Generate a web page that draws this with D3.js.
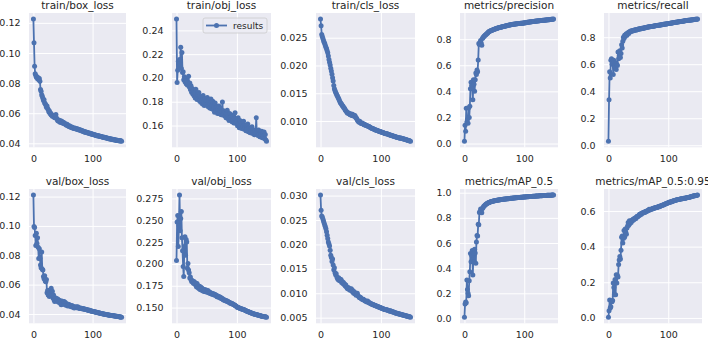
<!DOCTYPE html>
<html>
<head>
<meta charset="utf-8">
<script src="https://cdn.jsdelivr.net/npm/d3@7/dist/d3.min.js"></script>
<style>
body { margin: 0; background: #ffffff; }
svg text { font-family: "DejaVu Sans", sans-serif; fill: #262626; }
</style>
</head>
<body>
<div id="chart"></div>
<script>
// panel titles, left to right, top row then bottom row
var titles = ["train/box_loss", "train/obj_loss", "train/cls_loss", "metrics/precision", "metrics/recall",
              "val/box_loss", "val/obj_loss", "val/cls_loss", "metrics/mAP_0.5", "metrics/mAP_0.5:0.95"];

var trainBoxLoss = [
0.1225, 0.1068, 0.0912, 0.0862, 0.0850, 0.0838, 0.0842, 0.0828, 0.0835, 0.0822,
0.0830, 0.0812, 0.0758, 0.0745, 0.0722, 0.0712, 0.0700, 0.0685, 0.0690, 0.0668,
0.0662, 0.0655, 0.0640, 0.0648, 0.0632, 0.0625, 0.0610, 0.0615, 0.0598, 0.0602,
0.0588, 0.0592, 0.0580, 0.0585, 0.0578, 0.0575, 0.0570, 0.0582, 0.0592, 0.0568,
0.0560, 0.0552, 0.0548, 0.0555, 0.0545, 0.0540, 0.0550, 0.0538, 0.0546, 0.0535,
0.0540, 0.0532, 0.0536, 0.0528, 0.0530, 0.0524, 0.0520, 0.0526, 0.0518, 0.0515,
0.0512, 0.0516, 0.0508, 0.0510, 0.0505, 0.0508, 0.0502, 0.0504, 0.0500, 0.0498,
0.0502, 0.0496, 0.0499, 0.0494, 0.0496, 0.0491, 0.0493, 0.0488, 0.0490, 0.0486,
0.0488, 0.0483, 0.0485, 0.0480, 0.0482, 0.0477, 0.0479, 0.0474, 0.0476, 0.0472,
0.0474, 0.0470, 0.0471, 0.0467, 0.0469, 0.0465, 0.0466, 0.0462, 0.0464, 0.0460,
0.0461, 0.0458, 0.0459, 0.0455, 0.0457, 0.0453, 0.0454, 0.0451, 0.0452, 0.0449,
0.0450, 0.0447, 0.0448, 0.0445, 0.0446, 0.0443, 0.0444, 0.0441, 0.0442, 0.0439,
0.0440, 0.0437, 0.0438, 0.0435, 0.0436, 0.0433, 0.0434, 0.0431, 0.0432, 0.0429,
0.0430, 0.0427, 0.0428, 0.0425, 0.0427, 0.0424, 0.0425, 0.0422, 0.0424, 0.0421,
0.0422, 0.0419, 0.0421, 0.0418, 0.0419, 0.0416, 0.0418, 0.0415, 0.0417, 0.0414];

var trainObjLoss = [
0.2495, 0.1962, 0.2065, 0.2140, 0.2098, 0.2155, 0.2118, 0.2258, 0.2080, 0.2215,
0.2045, 0.2052, 0.1985, 0.2010, 0.1968, 0.1995, 0.1952, 0.1978, 0.1940, 0.1962,
0.2015, 0.1925, 0.1958, 0.1902, 0.1935, 0.1880, 0.1912, 0.1865, 0.1898, 0.1850,
0.1875, 0.1832, 0.1905, 0.1842, 0.1818, 0.1860, 0.1825, 0.1878, 0.1808, 0.1845,
0.1795, 0.1838, 0.1815, 0.1780, 0.1852, 0.1802, 0.1768, 0.1825, 0.1790, 0.1812,
0.1775, 0.1835, 0.1760, 0.1798, 0.1815, 0.1748, 0.1785, 0.1822, 0.1740, 0.1772,
0.1805, 0.1735, 0.1768, 0.1712, 0.1790, 0.1745, 0.1722, 0.1758, 0.1702, 0.1738,
0.1765, 0.1698, 0.1728, 0.1745, 0.1690, 0.1715, 0.1798, 0.1688, 0.1725, 0.1705,
0.1680, 0.1712, 0.1665, 0.1698, 0.1728, 0.1658, 0.1685, 0.1642, 0.1702, 0.1668,
0.1650, 0.1688, 0.1632, 0.1675, 0.1645, 0.1622, 0.1662, 0.1708, 0.1618, 0.1652,
0.1635, 0.1598, 0.1665, 0.1615, 0.1582, 0.1642, 0.1605, 0.1628, 0.1575, 0.1612,
0.1590, 0.1635, 0.1568, 0.1602, 0.1578, 0.1555, 0.1598, 0.1572, 0.1612, 0.1548,
0.1582, 0.1560, 0.1538, 0.1575, 0.1552, 0.1590, 0.1532, 0.1565, 0.1545, 0.1522,
0.1558, 0.1535, 0.1665, 0.1528, 0.1548, 0.1515, 0.1562, 0.1530, 0.1505, 0.1545,
0.1520, 0.1552, 0.1498, 0.1532, 0.1508, 0.1545, 0.1488, 0.1525, 0.1478, 0.1468];

var trainClsLoss = [
0.02835, 0.02715, 0.02560, 0.02520, 0.02485, 0.02450, 0.02420, 0.02395, 0.02360, 0.02330,
0.02300, 0.02265, 0.02230, 0.02170, 0.02110, 0.02060, 0.02010, 0.01950, 0.01900, 0.01840,
0.01780, 0.01720, 0.01640, 0.01580, 0.01550, 0.01520, 0.01495, 0.01470, 0.01450, 0.01425,
0.01405, 0.01380, 0.01350, 0.01330, 0.01315, 0.01300, 0.01280, 0.01270, 0.01250, 0.01240,
0.01220, 0.01200, 0.01185, 0.01170, 0.01155, 0.01140, 0.01150, 0.01135, 0.01125, 0.01115,
0.01130, 0.01110, 0.01100, 0.01120, 0.01095, 0.01105, 0.01085, 0.01100, 0.01070, 0.01060,
0.01040, 0.01020, 0.01000, 0.00990, 0.00980, 0.00995, 0.00970, 0.00960, 0.00955, 0.00965,
0.00950, 0.00945, 0.00935, 0.00940, 0.00930, 0.00925, 0.00920, 0.00915, 0.00910, 0.00905,
0.00900, 0.00895, 0.00890, 0.00880, 0.00875, 0.00870, 0.00865, 0.00860, 0.00855, 0.00850,
0.00845, 0.00840, 0.00838, 0.00832, 0.00828, 0.00825, 0.00820, 0.00815, 0.00812, 0.00808,
0.00805, 0.00800, 0.00796, 0.00792, 0.00788, 0.00785, 0.00780, 0.00776, 0.00772, 0.00770,
0.00772, 0.00765, 0.00760, 0.00758, 0.00752, 0.00750, 0.00746, 0.00742, 0.00738, 0.00735,
0.00732, 0.00728, 0.00725, 0.00720, 0.00718, 0.00714, 0.00710, 0.00708, 0.00705, 0.00700,
0.00698, 0.00695, 0.00690, 0.00694, 0.00688, 0.00684, 0.00680, 0.00682, 0.00676, 0.00672,
0.00670, 0.00666, 0.00662, 0.00660, 0.00655, 0.00652, 0.00648, 0.00645, 0.00640, 0.00637];

var precision = [
0.018, 0.140, 0.095, 0.270, 0.165, 0.185, 0.155, 0.275, 0.200, 0.285,
0.420, 0.470, 0.445, 0.420, 0.335, 0.490, 0.455, 0.400, 0.490, 0.540,
0.530, 0.564, 0.550, 0.640, 0.767, 0.760, 0.775, 0.790, 0.770, 0.754,
0.805, 0.812, 0.818, 0.822, 0.828, 0.832, 0.836, 0.840, 0.845, 0.848,
0.855, 0.857, 0.860, 0.862, 0.864, 0.866, 0.868, 0.870, 0.872, 0.874,
0.876, 0.878, 0.880, 0.881, 0.883, 0.884, 0.886, 0.887, 0.889, 0.890,
0.891, 0.892, 0.893, 0.895, 0.896, 0.897, 0.898, 0.900, 0.901, 0.902,
0.903, 0.904, 0.905, 0.906, 0.907, 0.908, 0.909, 0.910, 0.911, 0.912,
0.913, 0.914, 0.914, 0.915, 0.916, 0.916, 0.917, 0.918, 0.918, 0.919,
0.920, 0.920, 0.921, 0.921, 0.922, 0.922, 0.923, 0.923, 0.924, 0.924,
0.925, 0.926, 0.927, 0.927, 0.928, 0.929, 0.929, 0.930, 0.931, 0.931,
0.932, 0.933, 0.933, 0.934, 0.935, 0.935, 0.936, 0.937, 0.937, 0.938,
0.939, 0.939, 0.940, 0.940, 0.941, 0.942, 0.942, 0.943, 0.943, 0.944,
0.944, 0.945, 0.945, 0.946, 0.946, 0.947, 0.947, 0.948, 0.948, 0.949,
0.949, 0.950, 0.950, 0.951, 0.951, 0.952, 0.952, 0.953, 0.953, 0.954];

var recall = [
0.030, 0.337, 0.545, 0.497, 0.630, 0.640, 0.600, 0.615, 0.523, 0.630,
0.595, 0.580, 0.610, 0.560, 0.600, 0.590, 0.690, 0.640, 0.660, 0.700,
0.650, 0.680, 0.745, 0.720, 0.770, 0.800, 0.790, 0.815, 0.805, 0.820,
0.825, 0.815, 0.830, 0.835, 0.828, 0.840, 0.838, 0.845, 0.842, 0.848,
0.846, 0.850, 0.848, 0.853, 0.851, 0.855, 0.852, 0.857, 0.855, 0.858,
0.860, 0.858, 0.862, 0.861, 0.864, 0.863, 0.866, 0.865, 0.868, 0.867,
0.870, 0.869, 0.871, 0.872, 0.873, 0.874, 0.875, 0.876, 0.877, 0.877,
0.878, 0.879, 0.880, 0.880, 0.881, 0.882, 0.883, 0.883, 0.884, 0.885,
0.886, 0.886, 0.887, 0.888, 0.889, 0.889, 0.890, 0.891, 0.892, 0.892,
0.893, 0.894, 0.895, 0.895, 0.896, 0.897, 0.898, 0.898, 0.899, 0.900,
0.901, 0.902, 0.902, 0.903, 0.904, 0.905, 0.905, 0.906, 0.907, 0.908,
0.908, 0.909, 0.910, 0.911, 0.911, 0.912, 0.913, 0.914, 0.914, 0.915,
0.916, 0.917, 0.917, 0.918, 0.919, 0.919, 0.920, 0.921, 0.921, 0.922,
0.923, 0.923, 0.924, 0.925, 0.925, 0.926, 0.926, 0.927, 0.928, 0.928,
0.929, 0.929, 0.930, 0.931, 0.931, 0.932, 0.932, 0.933, 0.933, 0.934];

var valBoxLoss = [
0.1210, 0.0996, 0.0990, 0.0935, 0.0867, 0.0950, 0.0880, 0.0920, 0.0855, 0.0778,
0.0845, 0.0780, 0.0733, 0.0715, 0.0822, 0.0705, 0.0700, 0.0655, 0.0640, 0.0660,
0.0625, 0.0620, 0.0635, 0.0544, 0.0560, 0.0530, 0.0560, 0.0519, 0.0545, 0.0535,
0.0576, 0.0525, 0.0555, 0.0508, 0.0530, 0.0495, 0.0485, 0.0510, 0.0490, 0.0505,
0.0498, 0.0502, 0.0482, 0.0495, 0.0478, 0.0490, 0.0472, 0.0463, 0.0488, 0.0470,
0.0475, 0.0468, 0.0485, 0.0465, 0.0478, 0.0460, 0.0470, 0.0462, 0.0455, 0.0466,
0.0458, 0.0462, 0.0452, 0.0456, 0.0450, 0.0458, 0.0448, 0.0452, 0.0446, 0.0441,
0.0448, 0.0444, 0.0450, 0.0442, 0.0446, 0.0450, 0.0440, 0.0443, 0.0438, 0.0440,
0.0437, 0.0439, 0.0435, 0.0437, 0.0433, 0.0435, 0.0432, 0.0433, 0.0430, 0.0431,
0.0428, 0.0429, 0.0426, 0.0427, 0.0424, 0.0425, 0.0422, 0.0421, 0.0420, 0.0419,
0.0418, 0.0417, 0.0416, 0.0415, 0.0414, 0.0413, 0.0412, 0.0411, 0.0410, 0.0409,
0.0408, 0.0407, 0.0406, 0.0405, 0.0404, 0.0403, 0.0402, 0.0401, 0.0400, 0.0399,
0.0398, 0.0398, 0.0397, 0.0396, 0.0395, 0.0395, 0.0394, 0.0393, 0.0392, 0.0392,
0.0391, 0.0390, 0.0390, 0.0389, 0.0388, 0.0388, 0.0387, 0.0386, 0.0386, 0.0385,
0.0384, 0.0384, 0.0383, 0.0382, 0.0382, 0.0381, 0.0380, 0.0380, 0.0379, 0.0378];

var valObjLoss = [
0.2038, 0.2479, 0.2555, 0.2200, 0.2440, 0.2788, 0.2380, 0.2520, 0.2600, 0.2300,
0.2150, 0.1970, 0.1855, 0.2200, 0.2310, 0.2100, 0.2280, 0.2250, 0.1950, 0.2006,
0.1930, 0.1900, 0.1839, 0.1850, 0.1820, 0.1800, 0.1810, 0.1790, 0.1780, 0.1800,
0.1770, 0.1785, 0.1760, 0.1740, 0.1775, 0.1730, 0.1750, 0.1720, 0.1745, 0.1707,
0.1735, 0.1700, 0.1725, 0.1695, 0.1690, 0.1710, 0.1685, 0.1705, 0.1680, 0.1700,
0.1690, 0.1675, 0.1695, 0.1670, 0.1680, 0.1663, 0.1672, 0.1658, 0.1665, 0.1652,
0.1660, 0.1648, 0.1655, 0.1643, 0.1650, 0.1638, 0.1642, 0.1625, 0.1632, 0.1620,
0.1626, 0.1615, 0.1620, 0.1608, 0.1612, 0.1600, 0.1605, 0.1594, 0.1587, 0.1590,
0.1582, 0.1585, 0.1576, 0.1578, 0.1570, 0.1572, 0.1565, 0.1562, 0.1558, 0.1550,
0.1552, 0.1545, 0.1546, 0.1540, 0.1538, 0.1533, 0.1530, 0.1525, 0.1520, 0.1515,
0.1507, 0.1505, 0.1500, 0.1498, 0.1495, 0.1492, 0.1490, 0.1487, 0.1484, 0.1482,
0.1480, 0.1477, 0.1474, 0.1471, 0.1468, 0.1465, 0.1462, 0.1459, 0.1456, 0.1453,
0.1450, 0.1447, 0.1443, 0.1440, 0.1437, 0.1434, 0.1432, 0.1430, 0.1428, 0.1426,
0.1424, 0.1422, 0.1420, 0.1418, 0.1416, 0.1414, 0.1412, 0.1410, 0.1408, 0.1406,
0.1404, 0.1402, 0.1400, 0.1399, 0.1398, 0.1396, 0.1395, 0.1394, 0.1392, 0.1390];

var valClsLoss = [
0.0301, 0.0270, 0.0258, 0.0256, 0.0252, 0.0248, 0.0244, 0.0240, 0.0236, 0.0232,
0.0226, 0.0219, 0.0212, 0.0205, 0.0201, 0.0197, 0.0188, 0.0178, 0.0173, 0.0165,
0.0170, 0.0158, 0.0148, 0.0152, 0.0142, 0.0138, 0.0140, 0.0134, 0.0131, 0.0128,
0.0132, 0.0126, 0.0129, 0.0125, 0.0128, 0.0122, 0.0124, 0.0120, 0.0122, 0.0118,
0.0119, 0.0115, 0.0117, 0.0113, 0.0111, 0.0109, 0.0112, 0.0108, 0.0110, 0.0106,
0.0107, 0.0109, 0.0104, 0.0106, 0.0102, 0.0100, 0.0103, 0.0099, 0.0098, 0.0096,
0.0097, 0.0100, 0.0095, 0.0094, 0.0092, 0.0091, 0.0092, 0.0090, 0.0089, 0.0088,
0.0087, 0.0088, 0.0086, 0.0085, 0.0084, 0.0084, 0.0083, 0.0082, 0.0084, 0.0082,
0.0081, 0.0080, 0.0080, 0.0079, 0.0078, 0.0078, 0.0077, 0.0077, 0.0076, 0.0076,
0.0075, 0.0075, 0.0074, 0.0074, 0.0073, 0.0073, 0.0072, 0.0072, 0.0071, 0.0071,
0.0070, 0.0070, 0.0069, 0.0069, 0.0068, 0.0068, 0.0067, 0.0067, 0.0066, 0.0066,
0.0066, 0.0065, 0.0065, 0.0064, 0.0064, 0.0063, 0.0064, 0.0063, 0.0062, 0.0062,
0.0062, 0.0061, 0.0061, 0.0060, 0.0060, 0.0059, 0.0059, 0.0059, 0.0058, 0.0058,
0.0058, 0.0057, 0.0057, 0.0057, 0.0056, 0.0056, 0.0056, 0.0055, 0.0055, 0.0055,
0.0054, 0.0054, 0.0054, 0.0053, 0.0053, 0.0053, 0.0052, 0.0052, 0.0052, 0.0051];

var map50 = [
0.010, 0.115, 0.130, 0.125, 0.305, 0.230, 0.200, 0.180, 0.300, 0.372,
0.516, 0.450, 0.500, 0.540, 0.346, 0.520, 0.450, 0.550, 0.520, 0.440,
0.608, 0.660, 0.655, 0.750, 0.745, 0.843, 0.850, 0.870, 0.860, 0.840,
0.875, 0.880, 0.890, 0.895, 0.900, 0.905, 0.908, 0.912, 0.915, 0.918,
0.920, 0.922, 0.924, 0.926, 0.928, 0.930, 0.931, 0.933, 0.934, 0.935,
0.936, 0.937, 0.938, 0.939, 0.940, 0.941, 0.942, 0.943, 0.943, 0.944,
0.945, 0.946, 0.946, 0.947, 0.948, 0.948, 0.949, 0.950, 0.950, 0.951,
0.951, 0.952, 0.952, 0.953, 0.953, 0.954, 0.954, 0.955, 0.955, 0.956,
0.956, 0.957, 0.957, 0.958, 0.958, 0.959, 0.959, 0.960, 0.960, 0.961,
0.961, 0.962, 0.962, 0.962, 0.963, 0.963, 0.964, 0.964, 0.965, 0.965,
0.965, 0.966, 0.966, 0.967, 0.967, 0.967, 0.968, 0.968, 0.969, 0.969,
0.969, 0.970, 0.970, 0.970, 0.971, 0.971, 0.972, 0.972, 0.972, 0.973,
0.973, 0.973, 0.974, 0.974, 0.974, 0.975, 0.975, 0.975, 0.976, 0.976,
0.976, 0.977, 0.977, 0.977, 0.977, 0.978, 0.978, 0.978, 0.979, 0.979,
0.979, 0.979, 0.980, 0.980, 0.980, 0.980, 0.981, 0.981, 0.981, 0.981];

var map5095 = [
0.004, 0.040, 0.100, 0.055, 0.063, 0.095, 0.090, 0.098, 0.196, 0.170,
0.130, 0.215, 0.130, 0.242, 0.196, 0.240, 0.230, 0.300, 0.325, 0.345,
0.330, 0.380, 0.453, 0.460, 0.420, 0.445, 0.490, 0.453, 0.499, 0.480,
0.470, 0.505, 0.515, 0.535, 0.520, 0.545, 0.530, 0.540, 0.535, 0.548,
0.545, 0.554, 0.550, 0.558, 0.555, 0.562, 0.558, 0.566, 0.570, 0.567,
0.572, 0.575, 0.582, 0.578, 0.584, 0.581, 0.587, 0.590, 0.588, 0.592,
0.594, 0.592, 0.597, 0.599, 0.597, 0.601, 0.603, 0.602, 0.609, 0.606,
0.608, 0.610, 0.609, 0.612, 0.614, 0.613, 0.616, 0.617, 0.616, 0.619,
0.620, 0.619, 0.622, 0.623, 0.622, 0.627, 0.625, 0.628, 0.629, 0.630,
0.632, 0.633, 0.634, 0.636, 0.637, 0.639, 0.640, 0.642, 0.643, 0.645,
0.646, 0.649, 0.648, 0.650, 0.651, 0.653, 0.652, 0.655, 0.656, 0.657,
0.658, 0.659, 0.660, 0.661, 0.662, 0.663, 0.664, 0.664, 0.665, 0.666,
0.667, 0.667, 0.668, 0.669, 0.669, 0.670, 0.671, 0.671, 0.672, 0.673,
0.673, 0.674, 0.675, 0.676, 0.676, 0.677, 0.678, 0.679, 0.680, 0.681,
0.682, 0.683, 0.684, 0.685, 0.685, 0.686, 0.687, 0.687, 0.688, 0.689];

// y tick labels as printed on each panel
var yTickLabels = [
  ["0.04", "0.06", "0.08", "0.10", "0.12"],
  ["0.16", "0.18", "0.20", "0.22", "0.24"],
  ["0.010", "0.015", "0.020", "0.025"],
  ["0.0", "0.2", "0.4", "0.6", "0.8"],
  ["0.0", "0.2", "0.4", "0.6", "0.8"],
  ["0.04", "0.06", "0.08", "0.10", "0.12"],
  ["0.150", "0.175", "0.200", "0.225", "0.250", "0.275"],
  ["0.005", "0.010", "0.015", "0.020", "0.025", "0.030"],
  ["0.0", "0.2", "0.4", "0.6", "0.8", "1.0"],
  ["0.0", "0.2", "0.4", "0.6"]
];
var xTickLabels = ["0", "100"];
var legendLabel = "results";

var series = [trainBoxLoss, trainObjLoss, trainClsLoss, precision, recall,
              valBoxLoss, valObjLoss, valClsLoss, map50, map5095];

var W = 708, H = 339;
var colLeft = [29, 172, 316, 460, 604];
var colRight = [126, 271, 415, 558, 702];
var rowTop = [13, 189];
var rowBottom = [147.3, 323.3];
var blue = "#4C72B0";

var svg = d3.select("#chart").append("svg")
    .attr("width", W)
    .attr("height", H);

function padded(ext) {
  var p = (ext[1] - ext[0]) * 0.05;
  return [ext[0] - p, ext[1] + p];
}

function drawPanel(i) {
  var values = series[i];
  var col = i % 5, row = Math.floor(i / 5);
  var x0 = colLeft[col], x1 = colRight[col];
  var y0 = rowTop[row], y1 = rowBottom[row];
  var epochs = d3.range(values.length);

  var x = d3.scaleLinear().domain(padded(d3.extent(epochs))).range([x0, x1]);
  var y = d3.scaleLinear().domain(padded(d3.extent(values))).range([y1, y0]);

  var g = svg.append("g");

  g.append("rect")
    .attr("x", x0).attr("y", y0)
    .attr("width", x1 - x0).attr("height", y1 - y0)
    .attr("fill", "#EAEAF2");

  var labels = yTickLabels[i];
  var yAxis = d3.axisLeft(y)
    .tickValues(labels.map(function(d) { return +d; }))
    .tickFormat(function(d, k) { return labels[k]; })
    .tickSize(-(x1 - x0))
    .tickPadding(8.5);

  var ya = g.append("g")
    .attr("transform", "translate(" + x0 + ",0)")
    .call(yAxis);

  var xAxis = d3.axisBottom(x)
    .tickValues(xTickLabels.map(function(d) { return +d; }))
    .tickFormat(function(d, k) { return xTickLabels[k]; })
    .tickSize(-(y1 - y0))
    .tickPadding(8);

  var xa = g.append("g")
    .attr("transform", "translate(0," + y1 + ")")
    .call(xAxis);

  [ya, xa].forEach(function(a) {
    a.select(".domain").remove();
    a.selectAll(".tick line").attr("stroke", "#ffffff").attr("stroke-width", 1);
    a.selectAll(".tick text")
      .attr("font-size", "9.5px")
      .attr("font-family", "DejaVu Sans, sans-serif")
      .attr("fill", "#262626");
  });

  var line = d3.line()
    .x(function(d, k) { return x(k); })
    .y(function(d) { return y(d); });

  g.append("path")
    .datum(values)
    .attr("d", line)
    .attr("fill", "none")
    .attr("stroke", blue)
    .attr("stroke-width", 1.8)
    .attr("stroke-linejoin", "round");

  g.selectAll(".pt")
    .data(values).enter()
    .append("circle")
    .attr("class", "pt")
    .attr("cx", function(d, k) { return x(k); })
    .attr("cy", function(d) { return y(d); })
    .attr("r", 2.5)
    .attr("fill", blue);

  g.append("text")
    .attr("x", (x0 + x1) / 2)
    .attr("y", y0 - 4.3)
    .attr("text-anchor", "middle")
    .attr("font-size", "10.5px")
    .text(titles[i]);

  if (i === 1) {
    var lx = x1 - 68, ly = y0 + 5;
    var lg = g.append("g");
    lg.append("rect")
      .attr("x", lx).attr("y", ly)
      .attr("width", 64).attr("height", 15)
      .attr("rx", 2)
      .attr("fill", "#EAEAF2").attr("fill-opacity", 0.8)
      .attr("stroke", "#cccccc").attr("stroke-width", 0.8);
    lg.append("line")
      .attr("x1", lx + 3).attr("x2", lx + 24)
      .attr("y1", ly + 7.5).attr("y2", ly + 7.5)
      .attr("stroke", blue).attr("stroke-width", 1.8);
    lg.append("circle")
      .attr("cx", lx + 13.5).attr("cy", ly + 7.5)
      .attr("r", 2.5).attr("fill", blue);
    lg.append("text")
      .attr("x", lx + 30).attr("y", ly + 7.5)
      .attr("dy", "0.35em")
      .attr("font-size", "9px")
      .text(legendLabel);
  }
}

for (var i = 0; i < series.length; i++) {
  drawPanel(i);
}
</script>
</body>
</html>
